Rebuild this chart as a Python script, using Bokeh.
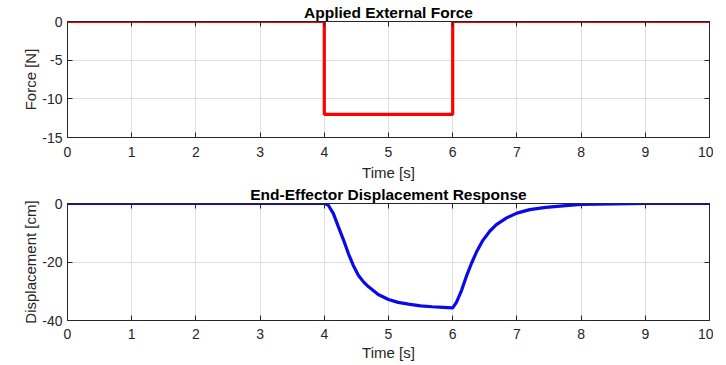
from bokeh.plotting import figure
from bokeh.layouts import column
from bokeh.models import LinearAxis, Range1d, FixedTicker
from bokeh.embed import file_html
from bokeh.resources import INLINE

# ---- data ----
force_t = [0, 4, 4, 6, 6, 10]
force_v = [0, 0, -12, -12, 0, 0]
zero_t = [0, 10]
zero_v = [0, 0]

disp_t = [0, 4.0, 4.06, 4.14, 4.22, 4.30, 4.375, 4.45, 4.53, 4.61, 4.69, 4.84,
          5.0, 5.15, 5.31, 5.5, 5.68, 5.85, 6.0, 6.06, 6.14, 6.21, 6.29, 6.37,
          6.47, 6.58, 6.68, 6.84, 7.0, 7.2, 7.45, 7.76, 8.0, 8.5, 9.0, 10.0]
disp_v = [0, 0, -0.5, -3.4, -8.0, -12.5, -17.1, -21.1, -24.5, -26.8, -28.5, -31.1,
          -32.8, -33.8, -34.4, -35.0, -35.3, -35.5, -35.7, -33.7, -29.6, -25.1, -20.6, -16.6,
          -12.6, -9.4, -7.2, -4.9, -3.3, -2.1, -1.3, -0.7, -0.3, -0.1, 0, 0]

x_ticks = [0, 1, 2, 3, 4, 5, 6, 7, 8, 9, 10]
force_ticks = [-15, -10, -5, 0]
disp_ticks = [-40, -20, 0]

FONT = "Liberation Sans"
TXT = "#262626"


def style(p, yticks, title, ylabel, xstand, xlabstand):
    p.title.text = title
    p.title.text_font = FONT
    p.title.text_font_size = "15.5px"
    p.title.text_font_style = "bold"
    p.title.align = "center"
    p.title.text_color = "black"
    p.title.standoff = 1
    p.title.offset = 0
    p.outline_line_color = "#262626"
    p.outline_line_width = 1
    p.background_fill_color = "white"
    p.border_fill_color = "white"
    for ax in [p.xaxis[0], p.yaxis[0]]:
        ax.major_tick_in = 5
        ax.major_tick_out = 0
        ax.minor_tick_line_color = None
        ax.axis_line_color = "#262626"
        ax.major_tick_line_color = "#262626"
        ax.major_label_text_font = FONT
        ax.major_label_text_font_size = "14px"
        ax.major_label_text_color = TXT
        ax.axis_label_text_font = FONT
        ax.axis_label_text_font_size = "15px"
        ax.axis_label_text_font_style = "normal"
        ax.axis_label_text_color = TXT
    p.xaxis[0].ticker = FixedTicker(ticks=x_ticks)
    p.yaxis[0].ticker = FixedTicker(ticks=yticks)
    p.xaxis[0].major_label_overrides = {t: str(t) for t in x_ticks}
    p.yaxis[0].major_label_overrides = {t: str(t) for t in yticks}
    p.xaxis[0].axis_label = "Time [s]"
    p.yaxis[0].axis_label = ylabel
    p.xaxis[0].major_label_standoff = xstand
    p.xaxis[0].axis_label_standoff = xlabstand
    p.yaxis[0].major_label_standoff = 5
    p.yaxis[0].axis_label_standoff = 0
    p.grid.grid_line_color = "#dedede"
    p.grid.grid_line_width = 1
    p.xgrid.ticker = FixedTicker(ticks=x_ticks)
    p.ygrid.ticker = FixedTicker(ticks=yticks)
    # box ticks on top and right (no labels)
    top = LinearAxis(ticker=FixedTicker(ticks=x_ticks))
    right = LinearAxis(ticker=FixedTicker(ticks=yticks))
    for ax in [top, right]:
        ax.major_tick_in = 5
        ax.major_tick_out = 0
        ax.minor_tick_line_color = None
        ax.major_label_text_font_size = "0px"
        ax.major_label_text_color = None
        ax.major_label_standoff = 0
        ax.axis_line_color = "#262626"
        ax.major_tick_line_color = "#262626"
    p.add_layout(top, "above")
    p.add_layout(right, "right")


p1 = figure(frame_width=642, frame_height=116, output_backend="svg",
            toolbar_location=None, x_range=Range1d(0, 10), y_range=Range1d(-15, 0),
            min_border_left=67, min_border_right=4, min_border_top=21, min_border_bottom=0)
style(p1, force_ticks, "Applied External Force", "Force [N]", 9, 4)
p1.line(force_t, force_v, line_color="#ff0000", line_width=3.2)
p1.line(zero_t, zero_v, line_color="#222222", line_width=1, line_dash="7 5")

p2 = figure(frame_width=642, frame_height=117, output_backend="svg",
            toolbar_location=None, x_range=Range1d(0, 10), y_range=Range1d(-40, 0),
            min_border_left=67, min_border_right=4, min_border_top=20, min_border_bottom=0)
style(p2, disp_ticks, "End-Effector Displacement Response", "Displacement [cm]", 8, 2)
p2.line(disp_t, disp_v, line_color="#0a0ae6", line_width=3.2)

layout = column(p1, p2, spacing=0)
open("out.html", "w").write(file_html(layout, INLINE))
